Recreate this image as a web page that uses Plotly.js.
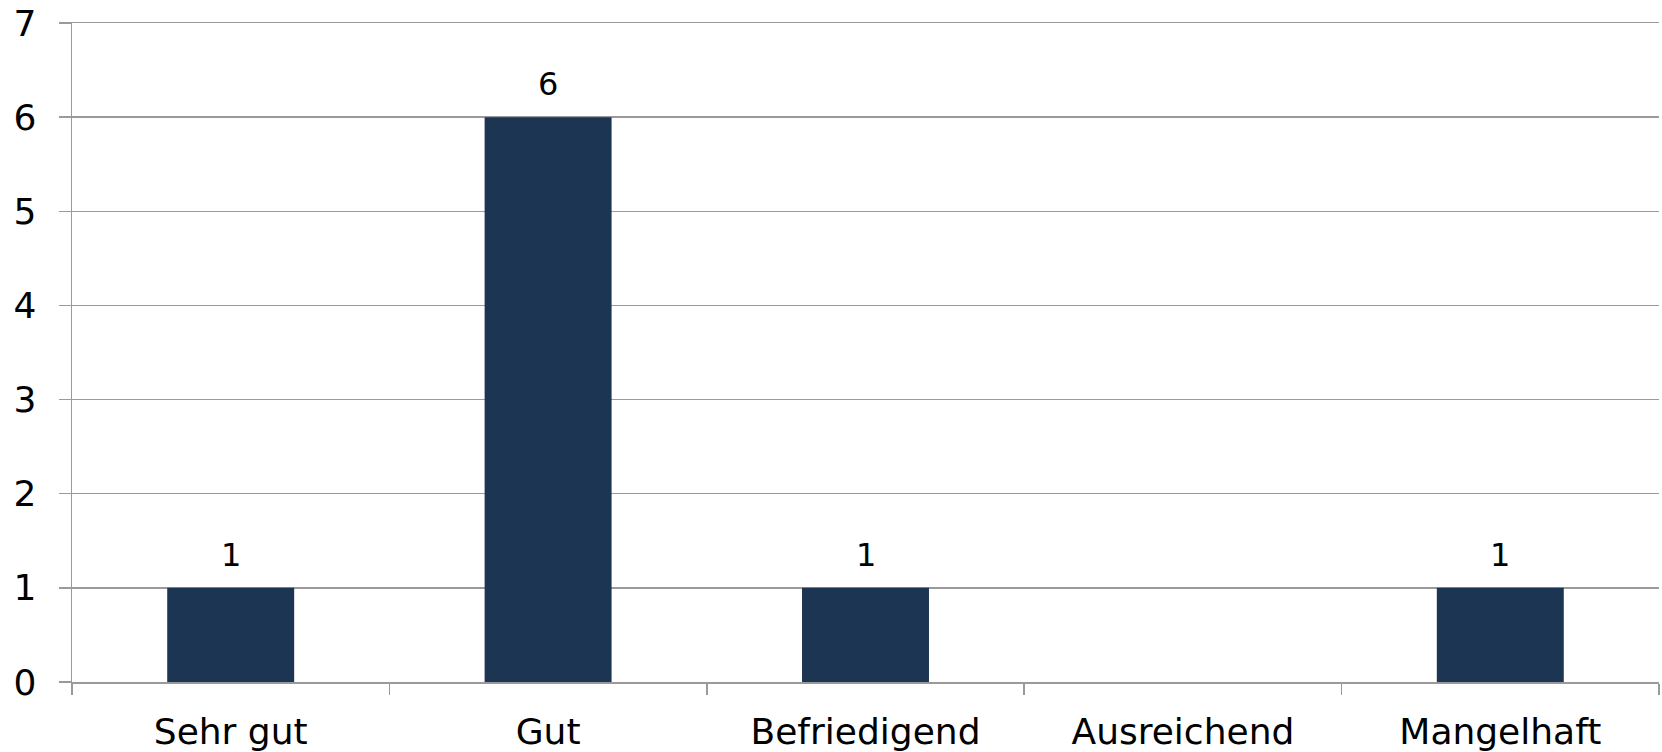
<!DOCTYPE html>
<html>
<head>
<meta charset="utf-8">
<script src="https://cdn.plot.ly/plotly-3.0.1.min.js"></script>
<style>html,body{margin:0;padding:0;background:#fff;}#chart{width:1662px;height:752px;}</style>
</head>
<body>
<div id="chart"></div>
<script>
const categories = ["Sehr gut", "Gut", "Befriedigend", "Ausreichend", "Mangelhaft"];
const values = [1, 6, 1, 0, 1];
const yTicks = [0, 1, 2, 3, 4, 5, 6, 7];

const FONT = "DejaVu Sans, Verdana, sans-serif";
const GRID = "#9a9a9a";

const trace = {
  type: "bar",
  x: categories,
  y: values,
  width: 0.4,
  marker: {color: "#1c3553", line: {width: 0}},
  hoverinfo: "x+y"
};

const annotations = [];
categories.forEach((c, i) => {
  if (values[i] > 0) {
    annotations.push({
      x: c, y: values[i], xref: "x", yref: "y",
      text: String(values[i]), showarrow: false,
      yanchor: "bottom", yshift: 12,
      font: {family: FONT, size: 32, color: "#000"}
    });
  }
});

const layout = {
  width: 1662, height: 752,
  margin: {l: 72, r: 3, t: 23, b: 70, pad: 0},
  paper_bgcolor: "#fff", plot_bgcolor: "#fff",
  showlegend: false,
  bargap: 0.6,
  font: {family: FONT, size: 36, color: "#000"},
  xaxis: {
    type: "category",
    showline: true, mirror: true, linecolor: GRID, linewidth: 1.5,
    ticks: "outside", tickson: "boundaries", ticklen: 11, tickcolor: GRID, tickwidth: 1.5,
    showgrid: false, zeroline: false,
    tickfont: {family: FONT, size: 36, color: "#000"},
    ticklabelstandoff: 17
  },
  yaxis: {
    range: [0, 7], tickvals: yTicks, ticktext: yTicks.map(String),
    showline: true, linecolor: GRID, linewidth: 1.5,
    ticks: "outside", ticklen: 12, tickcolor: GRID, tickwidth: 1.5,
    showgrid: true, gridcolor: GRID, gridwidth: 1.5,
    zeroline: false,
    tickfont: {family: FONT, size: 36, color: "#000"},
    ticklabelstandoff: 15
  },
  annotations: annotations
};

Plotly.newPlot("chart", [trace], layout, {displayModeBar: false, staticPlot: true});
</script>
</body>
</html>
